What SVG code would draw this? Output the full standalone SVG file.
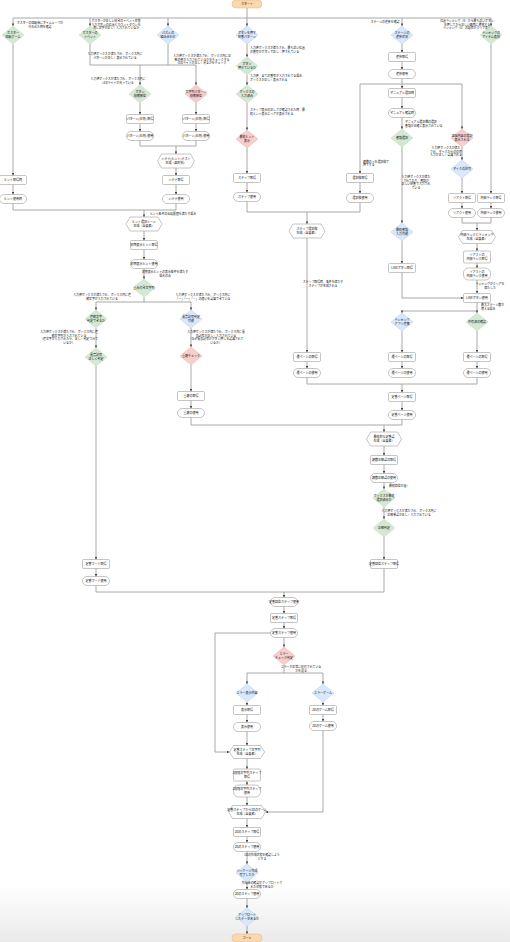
<svg xmlns="http://www.w3.org/2000/svg" width="510" height="942" viewBox="0 0 510 942">
<style>
.n{fill:#fff;stroke:#8a8a8a;stroke-width:0.5}
.g{fill:#d5e8d4;stroke:#b7d3b5;stroke-width:0.4}
.b{fill:#dae8fc;stroke:#a9c2e6;stroke-width:0.4}
.r{fill:#f8cecc;stroke:#e0a7a4;stroke-width:0.4}
.o{fill:#fad9b0;stroke:#e7b277;stroke-width:0.5}
text{font-family:"Noto Sans CJK JP","Noto Sans",sans-serif;font-size:3px;fill:#111;text-anchor:middle}
.l{font-size:2.9px}
.s{text-anchor:start}
.e path{fill:none;stroke:#9e9e9e;stroke-width:0.9}
.e path.a{marker-end:url(#ah)}
</style>
<defs>
<marker id="ah" viewBox="0 0 6 6" refX="6" refY="3" markerWidth="2.6" markerHeight="2.6" markerUnits="userSpaceOnUse" orient="auto"><path d="M0,0 L6,3 L0,6 z" fill="#444"/></marker>
<polygon id="dm" points="0,-9 11,0 0,9 -11,0"/>
<linearGradient id="bg" x1="0" y1="0" x2="0" y2="1"><stop offset="0" stop-color="#fff"/><stop offset="1" stop-color="#eaeaea"/></linearGradient>
</defs>
<rect width="510" height="942" fill="#fff"/>
<rect x="0" y="885" width="510" height="57" fill="url(#bg)"/>

<g class="e" id="connectors">
<path class="a" d="M247 8 V26"/>
<path class="a" d="M247 18 H13 V26"/>
<path class="a" d="M247 18 H491 V26"/>
<path class="a" d="M90 18 V26"/>
<path class="a" d="M168 18 V26"/>
<path class="a" d="M402 18 V26"/>
<path class="a" d="M13 44 V175.5"/>
<path class="a" d="M13 184.5 V194.5"/>
<path d="M13 203.5 V210 H176"/>
<path class="a" d="M90 44 V65 H196 V85"/>
<path d="M168 44 V65"/>
<path class="a" d="M140 65 V85"/>
<path class="a" d="M140 103 V114.5"/>
<path class="a" d="M140 123.5 V131.5"/>
<path class="a" d="M196 103 V114.5"/>
<path class="a" d="M196 123.5 V131.5"/>
<path d="M140 140.5 V146 H196 V140.5"/>
<path class="a" d="M176 146 V154"/>
<path class="a" d="M176 168 V175.5"/>
<path class="a" d="M176 184.5 V194.5"/>
<path d="M176 203.5 V210"/>
<path class="a" d="M144 210 V217"/>
<path class="a" d="M144 231 V240.5"/>
<path class="a" d="M144 249.5 V259.5"/>
<path class="a" d="M144 268.5 V279"/>
<path class="a" d="M144 297 V302 H96 V310"/>
<path class="a" d="M144 302 H191 V310"/>
<path class="a" d="M96 328 V348"/>
<path class="a" d="M96 366 V559.5"/>
<path class="a" d="M96 568.5 V576.5"/>
<path d="M96 585.5 V592 H384"/>
<path class="a" d="M191 328 V347"/>
<path class="a" d="M191 365 V391.5"/>
<path class="a" d="M191 400.5 V408.5"/>
<path d="M191 417.5 V425 H384"/>
<path class="a" d="M247 44 V57"/>
<path class="a" d="M247 75 V85"/>
<path class="a" d="M247 103 V130"/>
<path class="a" d="M247 148 V173.5"/>
<path class="a" d="M247 182.5 V192.5"/>
<path d="M247 201.5 V212 H360 V202.5"/>
<path class="a" d="M307 212 V224"/>
<path class="a" d="M402 44 V52.5"/>
<path class="a" d="M402 61.5 V69.5"/>
<path class="a" d="M402 78.5 V84 H360 V173.5"/>
<path class="a" d="M360 182.5 V193.5"/>
<path class="a" d="M402 84 V88.5"/>
<path class="a" d="M402 84 H462 V129"/>
<path class="a" d="M402 97.5 V108.5"/>
<path class="a" d="M402 117.5 V129"/>
<path class="a" d="M402 147 V223"/>
<path class="a" d="M402 241 V263.5"/>
<path class="a" d="M402 272.5 V298 H463.5"/>
<path class="a" d="M462 147 V160"/>
<path class="a" d="M462 178 V193.5"/>
<path class="a" d="M462 202.5 V208.5"/>
<path class="a" d="M491 44 V193.5"/>
<path class="a" d="M491 202.5 V208.5"/>
<path d="M462 217.5 V223 H491 V217.5"/>
<path class="a" d="M477 223 V230.5"/>
<path class="a" d="M477 243.5 V251"/>
<path class="a" d="M477 263 V268"/>
<path class="a" d="M477 280 V293.5"/>
<path class="a" d="M477 302.5 V311 H402 V313"/>
<path class="a" d="M477 311 V313"/>
<path class="a" d="M307 238 V352.5"/>
<path class="a" d="M307 361.5 V368.5"/>
<path class="a" d="M402 331 V352.5"/>
<path class="a" d="M402 361.5 V368.5"/>
<path class="a" d="M477 331 V352.5"/>
<path class="a" d="M477 361.5 V368.5"/>
<path d="M307 377.5 V384 H477 V377.5"/>
<path class="a" d="M402 384 V392.5"/>
<path class="a" d="M402 401.5 V410.5"/>
<path class="a" d="M402 419.5 V425 H384 V432"/>
<path class="a" d="M384 446 V455.5"/>
<path class="a" d="M384 464.5 V473.5"/>
<path class="a" d="M384 482.5 V489"/>
<path class="a" d="M384 507 V519"/>
<path class="a" d="M384 537 V559.5"/>
<path d="M384 568.5 V592"/>
<path class="a" d="M284 592 V597.5"/>
<path class="a" d="M284 606.5 V613.5"/>
<path class="a" d="M284 622.5 V628.5"/>
<path class="a" d="M284 637.5 V647"/>
<path class="a" d="M284 665 V673 H247 V684"/>
<path class="a" d="M284 673 H323 V684"/>
<path class="a" d="M247 702 V705.5"/>
<path class="a" d="M247 714.5 V722.5"/>
<path class="a" d="M247 731.5 V745.5"/>
<path class="a" d="M270.5 633 H215 V752 H229.5"/>
<path class="a" d="M247 758.5 V769"/>
<path class="a" d="M247 781 V785"/>
<path class="a" d="M247 797 V805.5"/>
<path class="a" d="M323 702 V705.5"/>
<path class="a" d="M323 714.5 V721.5"/>
<path class="a" d="M323 730.5 V812 H265.5"/>
<path class="a" d="M247 818.5 V827.5"/>
<path class="a" d="M247 836.5 V842.5"/>
<path class="a" d="M247 851.5 V864"/>
<path class="a" d="M247 882 V889.5"/>
<path class="a" d="M247 898.5 V908"/>
<path class="a" d="M247 926 V934"/>
</g>

<g id="edge-labels">
<text class="l" x="40" y="24">ポスターの回転後にタイムループが</text>
<text class="l" x="40" y="28">行われた時を確認</text>
<text class="l" x="116" y="22">ポスターが正しい向きのイベント状態</text>
<text class="l" x="116" y="25.5">入力ボタンの位置とカウントダウンを</text>
<text class="l" x="116" y="29">通し文字が正しく入力されているか</text>
<text class="l" x="115" y="55">入力値ボックスが満たされ、ボックス内に</text>
<text class="l" x="115" y="58.5">パターンが正しく表示されている</text>
<text class="l" x="202" y="57">入力値ボックスが満たされ、ボックス内に正</text>
<text class="l" x="202" y="60.5">解の値が入力されているかをチェックする</text>
<text class="l" x="202" y="64">LEDライトが正しく光るかをチェック</text>
<text class="l" x="118" y="80">入力値ボックスが満たされ、ボックス内に</text>
<text class="l" x="118" y="83.5">LEDライトが光っている</text>
<text class="l s" x="250" y="49">入力値ボックスが満たされ、最も近い位置</text>
<text class="l s" x="250" y="52.5">の番号がボタンで正しく押されている</text>
<text class="l s" x="250" y="77">入力値、全ての番号が入力されてる場合、</text>
<text class="l s" x="250" y="80.5">ボックスが正しく表示される</text>
<text class="l s" x="250" y="111">ステップ表示の正しさが確認された時、最</text>
<text class="l s" x="250" y="114.5">終ヒント表示エリアが表示される</text>
<text class="l" x="385" y="23">ステージの進捗を確認</text>
<text class="l" x="467" y="22">位置ランキング（X）から最も近いボタン</text>
<text class="l" x="467" y="25.5">を押してから正しい画面に遷移する</text>
<text class="l" x="467" y="29">ランキング（X）の項目がクリア表示</text>
<text class="l s" x="363" y="162.5">複数の人を選択肢で</text>
<text class="l s" x="363" y="166">押下する</text>
<text class="l s" x="405" y="123">マニュアル選択欄の選択</text>
<text class="l s" x="405" y="126.5">書類が正確に表示されている</text>
<text class="l" x="446" y="149">入力値ボックスが満た</text>
<text class="l" x="446" y="152.5">され、マイクからの音声</text>
<text class="l" x="446" y="156">入力が正しく認識される</text>
<text class="l" x="416" y="178">入力値ボックスが満た</text>
<text class="l" x="416" y="181.5">されており、書類が</text>
<text class="l" x="416" y="185">正しい順番で入力され</text>
<text class="l" x="416" y="188.5">ている</text>
<text class="l" x="173" y="215">ヒント条件の出現履歴を満たす場合</text>
<text class="l" x="323" y="283">ステップ取得時、条件を満たす</text>
<text class="l" x="323" y="286.5">ステップが生成される</text>
<text class="l" x="490" y="285">ランキングがクリアを</text>
<text class="l" x="490" y="288.5">満たした</text>
<text class="l s" x="481" y="306.2">最大ステージ数が</text>
<text class="l s" x="481" y="309.6">増える場合</text>
<text class="l" x="165" y="273">初期表示ヒントの表示条件を満たす</text>
<text class="l" x="165" y="276.5">場合のみ</text>
<text class="l" x="102" y="296">入力値ボックスが満たされ、ボックス内に連</text>
<text class="l" x="102" y="299.5">続文字が入力されている</text>
<text class="l" x="203" y="296">入力値ボックスが満たされ、ボックス内に</text>
<text class="l" x="203" y="299.5">「ー」「一」「－」の違いを認識できている</text>
<text class="l" x="69" y="333">入力値ボックスが満たされ、ボックス内に連</text>
<text class="l" x="69" y="336.5">続文字列が入力されている</text>
<text class="l" x="69" y="340">（連文字が入力されたら、正しく判定されて</text>
<text class="l" x="69" y="343.5">いるか）</text>
<text class="l" x="216" y="333">入力値ボックスが満たされ、ボックス内に長</text>
<text class="l" x="216" y="336.5">音記号が正しく入力されている</text>
<text class="l" x="216" y="340">（なぜ長音記号がボタン押しを認識されて</text>
<text class="l" x="216" y="343.5">いるか）</text>
<text class="l s" x="389" y="487">最終回答が届く</text>
<text class="l" x="409" y="512">入力値ボックスが満たされ、ボックス内に</text>
<text class="l" x="409" y="515.5">正解単語が正しく入力されている</text>
<text class="l" x="301" y="668">エラーが正常に処理されている</text>
<text class="l" x="301" y="671.5">かを見る</text>
<text class="l" x="262" y="856">2Dの作成状態を確認しよう</text>
<text class="l" x="262" y="859.5">とする</text>
<text class="l" x="262" y="884">作成後の確認がアップロードさ</text>
<text class="l" x="262" y="887.5">れた状態であるか</text>
</g>

<g id="start"><rect class="o" x="232" y="0" width="30" height="8" rx="4"/><text x="247" y="5.1">スタート</text></g>

<g id="d1"><use href="#dm" x="13" y="35" class="g"/><text x="13" y="34.4">ポスター</text><text x="13" y="37.8">回転ゲーム</text></g>
<g id="d2"><use href="#dm" x="90" y="35" class="g"/><text x="90" y="34.4">ポスターの</text><text x="90" y="37.8">イベント</text></g>
<g id="d3"><use href="#dm" x="168" y="35" class="b"/><text x="168" y="34.4">パズルの</text><text x="168" y="37.8">組み合わせ</text></g>
<g id="d4"><use href="#dm" x="247" y="35" class="b"/><text x="247" y="34.4">ボタンを押す</text><text x="247" y="37.8">順番パターン</text></g>
<g id="d5"><use href="#dm" x="402" y="35" class="b"/><text x="402" y="34.4">ステージの</text><text x="402" y="37.8">進捗状況</text></g>
<g id="d6"><use href="#dm" x="491" y="35" class="g"/><text x="491" y="34.4">ランキングの</text><text x="491" y="37.8">アイテム追加</text></g>

<g id="hint-get"><rect class="n" x="-0.5" y="175.5" width="27" height="9" rx="1.2"/><text x="13" y="181.1">ヒント取得時</text></g>
<g id="hint-use"><rect class="n" x="-0.5" y="194.5" width="27" height="9" rx="4.5"/><text x="13" y="200.1">ヒント使用時</text></g>

<g id="d7"><use href="#dm" x="140" y="94" class="g"/><text x="140" y="93.4">ボタン</text><text x="140" y="96.8">模範解答</text></g>
<g id="d8"><use href="#dm" x="196" y="94" class="r"/><text x="196" y="93.4">文字列パターン</text><text x="196" y="96.8">模範解答</text></g>
<g id="p1"><rect class="n" x="126.5" y="114.5" width="27" height="9" rx="1.2"/><text x="140" y="120.1">パターン(左側) 取得</text></g>
<g id="p2"><rect class="n" x="126.5" y="131.5" width="27" height="9" rx="4.5"/><text x="140" y="137.1">パターン(左側) 使用</text></g>
<g id="p3"><rect class="n" x="182.5" y="114.5" width="27" height="9" rx="1.2"/><text x="196" y="120.1">パターン(右側) 取得</text></g>
<g id="p4"><rect class="n" x="182.5" y="131.5" width="27" height="9" rx="4.5"/><text x="196" y="137.1">パターン(右側) 使用</text></g>
<g id="h1"><polygon class="n" points="157.5,161 161.5,154 190.5,154 194.5,161 190.5,168 161.5,168"/><text x="176" y="160.4">ハテナ(ヒント)テスト</text><text x="176" y="163.8">生成（図形別）</text></g>
<g id="q-get"><rect class="n" x="162.5" y="175.5" width="27" height="9" rx="1.2"/><text x="176" y="181.1">ハテナ取得</text></g>
<g id="q-use"><rect class="n" x="162.5" y="194.5" width="27" height="9" rx="4.5"/><text x="176" y="200.1">ハテナ使用</text></g>

<g id="d14"><use href="#dm" x="247" y="66" class="g"/><text x="247" y="65.4">ボタン</text><text x="247" y="68.8">押せているか</text></g>
<g id="d15"><use href="#dm" x="247" y="94" class="g"/><text x="247" y="93.4">ボックスの</text><text x="247" y="96.8">入力済み</text></g>
<g id="d16"><use href="#dm" x="247" y="139" class="r"/><text x="247" y="138.4">最終ヒント</text><text x="247" y="141.8">表示</text></g>
<g id="step-get"><rect class="n" x="233.5" y="173.5" width="27" height="9" rx="1.2"/><text x="247" y="179.1">ステップ取得</text></g>
<g id="step-use"><rect class="n" x="233.5" y="192.5" width="27" height="9" rx="4.5"/><text x="247" y="198.1">ステップ使用</text></g>

<g id="prog-get"><rect class="n" x="388.5" y="52.5" width="27" height="9" rx="1.2"/><text x="402" y="58.1">進捗取得</text></g>
<g id="prog-use"><rect class="n" x="388.5" y="69.5" width="27" height="9" rx="4.5"/><text x="402" y="75.1">進捗使用</text></g>
<g id="sel-get"><rect class="n" x="346.5" y="173.5" width="27" height="9" rx="1.2"/><text x="360" y="179.1">選択肢取得</text></g>
<g id="sel-use"><rect class="n" x="346.5" y="193.5" width="27" height="9" rx="4.5"/><text x="360" y="199.1">選択肢使用</text></g>
<g id="man-get"><rect class="n" x="388.5" y="88.5" width="27" height="9" rx="1.2"/><text x="402" y="94.1">マニュアル選択時</text></g>
<g id="man-use"><rect class="n" x="388.5" y="108.5" width="27" height="9" rx="4.5"/><text x="402" y="114.1">マニュアル確認時</text></g>
<g id="d17"><use href="#dm" x="402" y="138" class="g"/><text x="402" y="139.1">書類選択</text></g>
<g id="d18"><use href="#dm" x="462" y="138" class="r"/><text x="462" y="137.4">送信内容の選択</text><text x="462" y="140.8">表示される</text></g>
<g id="d19"><use href="#dm" x="402" y="232" class="b"/><text x="402" y="231.4">最終書類</text><text x="402" y="234.8">入力可能</text></g>
<g id="line-get"><rect class="n" x="388.5" y="263.5" width="27" height="9" rx="1.2"/><text x="402" y="269.1">LINEボタン取得</text></g>
<g id="d20"><use href="#dm" x="462" y="169" class="b"/><text x="462" y="170.1">マイクの許可</text></g>
<g id="react-get"><rect class="n" x="448.5" y="193.5" width="27" height="9" rx="1.2"/><text x="462" y="199.1">リアクト取得</text></g>
<g id="react-use"><rect class="n" x="448.5" y="208.5" width="27" height="9" rx="4.5"/><text x="462" y="214.1">リアクト使用</text></g>
<g id="rank-get"><rect class="n" x="477.5" y="193.5" width="27" height="9" rx="1.2"/><text x="491" y="199.1">内部ランク取得</text></g>
<g id="rank-use"><rect class="n" x="477.5" y="208.5" width="27" height="9" rx="4.5"/><text x="491" y="214.1">内部ランク使用</text></g>
<g id="h5"><polygon class="n" points="458.5,237 462.5,230.5 491.5,230.5 495.5,237 491.5,243.5 462.5,243.5"/><text x="477" y="236.4">内部ランクとランキング</text><text x="477" y="239.8">生成（全要素）</text></g>
<g id="rr-get"><rect class="n" x="463.5" y="251" width="27" height="12" rx="1.2"/><text x="477" y="256.4">リアクトの</text><text x="477" y="259.8">内部ランク取得</text></g>
<g id="rr-use"><rect class="n" x="463.5" y="268" width="27" height="12" rx="5"/><text x="477" y="273.4">リアクトの</text><text x="477" y="276.8">内部ランク使用</text></g>
<g id="line-use"><rect class="n" x="463.5" y="293.5" width="27" height="9" rx="1.2"/><text x="477" y="299.1">LINEボタン使用</text></g>

<g id="h4"><polygon class="n" points="289,231 293,224 321,224 325,231 321,238 293,238"/><text x="307" y="230.4">ステップ選択肢</text><text x="307" y="233.8">生成（全要素）</text></g>
<g id="d21"><use href="#dm" x="402" y="322" class="b"/><text x="402" y="321.4">ランキング</text><text x="402" y="324.8">アプリ連携</text></g>
<g id="d22"><use href="#dm" x="477" y="322" class="g"/><text x="477" y="323.1">共有済の確認</text></g>
<g id="pg1-get"><rect class="n" x="293.5" y="352.5" width="27" height="9" rx="1.2"/><text x="307" y="358.1">遷ページの取得</text></g>
<g id="pg1-use"><rect class="n" x="293.5" y="368.5" width="27" height="9" rx="4.5"/><text x="307" y="374.1">遷ページの使用</text></g>
<g id="pg2-get"><rect class="n" x="388.5" y="352.5" width="27" height="9" rx="1.2"/><text x="402" y="358.1">遷ページの取得</text></g>
<g id="pg2-use"><rect class="n" x="388.5" y="368.5" width="27" height="9" rx="4.5"/><text x="402" y="374.1">遷ページの使用</text></g>
<g id="pg3-get"><rect class="n" x="463.5" y="352.5" width="27" height="9" rx="1.2"/><text x="477" y="358.1">遷ページの取得</text></g>
<g id="pg3-use"><rect class="n" x="463.5" y="368.5" width="27" height="9" rx="4.5"/><text x="477" y="374.1">遷ページの使用</text></g>
<g id="std-get"><rect class="n" x="388.5" y="392.5" width="27" height="9" rx="1.2"/><text x="402" y="398.1">定番ページ取得</text></g>
<g id="std-use"><rect class="n" x="388.5" y="410.5" width="27" height="9" rx="4.5"/><text x="402" y="416.1">定番ページ使用</text></g>

<g id="h2"><polygon class="n" points="126,224 130,217 158,217 162,224 158,231 130,231"/><text x="144" y="223.4">ヒント選択ルール</text><text x="144" y="226.8">生成（全要素）</text></g>
<g id="init-get"><rect class="n" x="130.5" y="240.5" width="27" height="9" rx="1.2"/><text x="144" y="246.1">初期表示ヒント取得</text></g>
<g id="init-use"><rect class="n" x="130.5" y="259.5" width="27" height="9" rx="4.5"/><text x="144" y="265.1">初期表示ヒント使用</text></g>
<g id="d9"><use href="#dm" x="144" y="288" class="g"/><text x="144" y="289.1">重み付き文字列</text></g>
<g id="d10"><use href="#dm" x="96" y="319" class="g"/><text x="96" y="318.4">連続文字</text><text x="96" y="321.8">判定できるか</text></g>
<g id="d11"><use href="#dm" x="191" y="319" class="b"/><text x="191" y="318.4">長音記号判定</text><text x="191" y="321.8">可能</text></g>
<g id="d12"><use href="#dm" x="96" y="357" class="g"/><text x="96" y="356.4">長音記号</text><text x="96" y="359.8">正しく判定</text></g>
<g id="d13"><use href="#dm" x="191" y="356" class="r"/><text x="191" y="357.1">重複チェック</text></g>
<g id="dup-get"><rect class="n" x="177.5" y="391.5" width="27" height="9" rx="1.2"/><text x="191" y="397.1">重複の取得</text></g>
<g id="dup-use"><rect class="n" x="177.5" y="408.5" width="27" height="9" rx="4.5"/><text x="191" y="414.1">重複の使用</text></g>
<g id="word-get"><rect class="n" x="82.5" y="559.5" width="27" height="9" rx="1.2"/><text x="96" y="565.1">定番ワード取得</text></g>
<g id="word-use"><rect class="n" x="82.5" y="576.5" width="27" height="9" rx="4.5"/><text x="96" y="582.1">定番ワード使用</text></g>

<g id="h3"><polygon class="n" points="366.5,439 370.5,432 397.5,432 401.5,439 397.5,446 370.5,446"/><text x="384" y="438.4">最終的な定番語</text><text x="384" y="441.8">生成（全要素）</text></g>
<g id="multi-get"><rect class="n" x="370.5" y="455.5" width="27" height="9" rx="1.2"/><text x="384" y="461.1">複数正解語の取得</text></g>
<g id="multi-use"><rect class="n" x="370.5" y="473.5" width="27" height="9" rx="4.5"/><text x="384" y="479.1">複数正解語の使用</text></g>
<g id="d23"><use href="#dm" x="384" y="498" class="g"/><text x="384" y="497.4">ボックスが最終</text><text x="384" y="500.8">選択済みか</text></g>
<g id="d24"><use href="#dm" x="384" y="528" class="g"/><text x="384" y="529.1">正解判定</text></g>
<g id="ans-get"><rect class="n" x="370.5" y="559.5" width="27" height="9" rx="1.2"/><text x="384" y="565.1">定番回答ステップ取得</text></g>

<g id="ans-use"><rect class="n" x="270.5" y="597.5" width="27" height="9" rx="4.5"/><text x="284" y="603.1">定番回答ステップ使用</text></g>
<g id="st-get"><rect class="n" x="270.5" y="613.5" width="27" height="9" rx="1.2"/><text x="284" y="619.1">定番ステップ取得</text></g>
<g id="st-use"><rect class="n" x="270.5" y="628.5" width="27" height="9" rx="4.5"/><text x="284" y="634.1">定番ステップ使用</text></g>
<g id="d25"><use href="#dm" x="284" y="656" class="r"/><text x="284" y="655.4">エラー</text><text x="284" y="658.8">チェック判定</text></g>
<g id="d26"><use href="#dm" x="247" y="693" class="b"/><text x="247" y="694.1">エラー表示内容</text></g>
<g id="d27"><use href="#dm" x="323" y="693" class="b"/><text x="323" y="694.1">エラーゲーム</text></g>
<g id="disp-get"><rect class="n" x="233.5" y="705.5" width="27" height="9" rx="1.2"/><text x="247" y="711.1">表示取得</text></g>
<g id="disp-use"><rect class="n" x="233.5" y="722.5" width="27" height="9" rx="4.5"/><text x="247" y="728.1">表示使用</text></g>
<g id="game-get"><rect class="n" x="309.5" y="705.5" width="27" height="9" rx="1.2"/><text x="323" y="711.1">2Dのゲーム取得</text></g>
<g id="game-use"><rect class="n" x="309.5" y="721.5" width="27" height="9" rx="4.5"/><text x="323" y="727.1">2Dのゲーム使用</text></g>
<g id="h6"><polygon class="n" points="229.5,752 233.5,745.5 260.5,745.5 264.5,752 260.5,758.5 233.5,758.5"/><text x="247" y="751.4">定番ステップ文字列</text><text x="247" y="754.8">生成（全要素）</text></g>
<g id="two-get"><rect class="n" x="233.5" y="769" width="27" height="12" rx="1.2"/><text x="247" y="774.4">2段階文字列ステップ</text><text x="247" y="777.8">取得</text></g>
<g id="two-use"><rect class="n" x="233.5" y="785" width="27" height="12" rx="5"/><text x="247" y="790.4">2段階文字列ステップ</text><text x="247" y="793.8">使用</text></g>
<g id="h7"><polygon class="n" points="228.5,812 232.5,805.5 261.5,805.5 265.5,812 261.5,818.5 232.5,818.5"/><text x="247" y="811.4">定番ステップから2Dのゲーム</text><text x="247" y="814.8">生成（全要素）</text></g>
<g id="2d-get"><rect class="n" x="233.5" y="827.5" width="27" height="9" rx="1.2"/><text x="247" y="833.1">2Dのステップ取得</text></g>
<g id="2d-use"><rect class="n" x="233.5" y="842.5" width="27" height="9" rx="4.5"/><text x="247" y="848.1">2Dのステップ使用</text></g>
<g id="d28"><use href="#dm" x="247" y="873" class="b"/><text x="247" y="872.4">パッケージ作成</text><text x="247" y="875.8">完了したか</text></g>
<g id="2d-use2"><rect class="n" x="233.5" y="889.5" width="27" height="9" rx="4.5"/><text x="247" y="895.1">2Dのステップ使用</text></g>
<g id="d29"><use href="#dm" x="247" y="917" class="b"/><text x="247" y="916.4">アップロード</text><text x="247" y="919.8">したデータあるか</text></g>
<g id="goal"><rect class="o" x="232" y="934" width="30" height="8" rx="4"/><text x="247" y="939.1">ゴール</text></g>
</svg>
